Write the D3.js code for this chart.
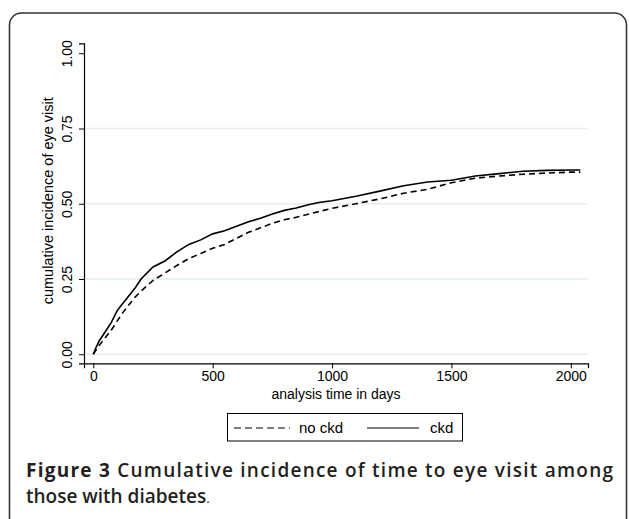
<!DOCTYPE html>
<html>
<head>
<meta charset="utf-8">
<script src="https://cdn.jsdelivr.net/npm/d3@7/dist/d3.min.js"></script>
<style>
  html, body { margin: 0; padding: 0; background: #fff; }
  svg { display: block; }
</style>
</head>
<body>
<svg id="chart" width="629" height="519"></svg>
<script>
// ---- data ----
const days = [0, 10, 25, 50, 75, 100, 125, 150, 175, 200, 250, 300, 350, 400, 450, 500, 550, 600, 650, 700, 750, 800, 850, 900, 950, 1000, 1100, 1200, 1300, 1400, 1500, 1600, 1700, 1800, 1900, 2000, 2040];
const ckd = [0, 0.02, 0.045, 0.075, 0.105, 0.145, 0.17, 0.195, 0.22, 0.25, 0.29, 0.31, 0.34, 0.365, 0.38, 0.40, 0.41, 0.425, 0.44, 0.452, 0.466, 0.478, 0.486, 0.497, 0.505, 0.51, 0.525, 0.542, 0.56, 0.572, 0.578, 0.592, 0.60, 0.608, 0.611, 0.612, 0.612];
const noCkd = [0, 0.012, 0.03, 0.055, 0.08, 0.11, 0.14, 0.165, 0.19, 0.21, 0.245, 0.27, 0.295, 0.318, 0.335, 0.352, 0.365, 0.385, 0.405, 0.42, 0.435, 0.447, 0.455, 0.465, 0.475, 0.485, 0.50, 0.516, 0.535, 0.548, 0.57, 0.585, 0.592, 0.598, 0.602, 0.605, 0.605];
const xTicks = [0, 500, 1000, 1500, 2000];
const yTicks = [0, 0.25, 0.5, 0.75, 1.0];
const yGrid = [0, 0.25, 0.5, 0.75];
const seriesNames = ["no ckd", "ckd"];
const xTitle = "analysis time in days";
const yTitle = "cumulative incidence of eye visit";
const captionBold = "Figure 3";
const captionRest = " Cumulative incidence of time to eye visit among";
const captionLine2 = "those with diabetes";

// ---- layout ----
const svg = d3.select("#chart");
const font = "'Liberation Sans', Arial, Helvetica, sans-serif";

// outer rounded frame
svg.append("rect")
  .attr("x", 9.5).attr("y", 13).attr("width", 617).attr("height", 520)
  .attr("rx", 12).attr("ry", 12)
  .attr("fill", "none").attr("stroke", "#333").attr("stroke-width", 1.6);

const x = d3.scaleLinear().domain([-39, 2072]).range([84, 588]);
const y = d3.scaleLinear().domain([-0.03, 1.033]).range([363.3, 43.3]);

// gridlines
svg.append("g").selectAll("line").data(yGrid).join("line")
  .attr("x1", x.range()[0]).attr("x2", x.range()[1])
  .attr("y1", d => y(d)).attr("y2", d => y(d))
  .attr("stroke", "#e4eef0").attr("stroke-width", 1.3);

// x axis
const gx = svg.append("g").attr("transform", `translate(0,${y.range()[0]})`)
  .call(d3.axisBottom(x).tickValues(xTicks).tickFormat(d3.format("d")).tickSizeOuter(0).tickSize(5).tickPadding(3));
gx.select(".domain").attr("stroke", "#000").attr("stroke-width", 1.2);
gx.selectAll(".tick line").attr("stroke", "#000").attr("stroke-width", 1);
gx.selectAll(".tick text").attr("font-family", font).attr("font-size", 14).attr("fill", "#000");

// y axis
const gy = svg.append("g").attr("transform", `translate(${x.range()[0]},0)`)
  .call(d3.axisLeft(y).tickValues(yTicks).tickFormat(d3.format(".2f")).tickSizeOuter(0).tickSize(5));
gy.select(".domain").attr("stroke", "#000").attr("stroke-width", 1.2);
gy.selectAll(".tick line").attr("stroke", "#000").attr("stroke-width", 1);
gy.selectAll(".tick text")
  .attr("font-family", font).attr("font-size", 14).attr("fill", "#000")
  .attr("x", null).attr("dy", null)
  .attr("text-anchor", "middle")
  .attr("transform", "translate(-12,0) rotate(-90)");

// axis titles
svg.append("text")
  .attr("x", (x.range()[0] + x.range()[1]) / 2).attr("y", 399)
  .attr("text-anchor", "middle").attr("font-family", font).attr("font-size", 14)
  .text(xTitle);
svg.append("text")
  .attr("transform", `translate(53,${y(0.5) - 3}) rotate(-90)`)
  .attr("text-anchor", "middle").attr("font-family", font).attr("font-size", 14.5)
  .text(yTitle);

// lines
const line = (vals) => d3.line()
  .x((d, i) => x(days[i]))
  .y(d => y(d))(vals);

svg.append("path").attr("d", line(noCkd))
  .attr("fill", "none").attr("stroke", "#000").attr("stroke-width", 1.6)
  .attr("stroke-dasharray", "6,4");
svg.append("path").attr("d", line(ckd))
  .attr("fill", "none").attr("stroke", "#000").attr("stroke-width", 1.6);

// legend
const lg = svg.append("g");
lg.append("rect").attr("x", 227.5).attr("y", 413.5).attr("width", 235).attr("height", 27.5)
  .attr("fill", "#fff").attr("stroke", "#000").attr("stroke-width", 1);
lg.append("line").attr("x1", 234).attr("x2", 290).attr("y1", 428).attr("y2", 428)
  .attr("stroke", "#000").attr("stroke-width", 1.2).attr("stroke-dasharray", "7,4");
lg.append("text").attr("x", 299).attr("y", 433).attr("font-family", font).attr("font-size", 15).text(seriesNames[0]);
lg.append("line").attr("x1", 367).attr("x2", 419).attr("y1", 428).attr("y2", 428)
  .attr("stroke", "#000").attr("stroke-width", 1.2);
lg.append("text").attr("x", 430).attr("y", 433).attr("font-family", font).attr("font-size", 15).text(seriesNames[1]);

// caption
const capFont = "'Open Sans', 'Noto Sans', sans-serif";
const cap1 = svg.append("text").attr("x", 26).attr("y", 477)
  .attr("font-family", capFont).attr("font-size", 19).attr("fill", "#231f20")
  .attr("textLength", 587).attr("lengthAdjust", "spacing");
cap1.append("tspan").attr("font-weight", 700).text(captionBold);
cap1.append("tspan").attr("font-weight", 600).text(captionRest);
const cap2 = svg.append("text").attr("x", 26).attr("y", 503)
  .attr("font-family", capFont).attr("font-size", 19).attr("fill", "#231f20");
cap2.append("tspan").attr("font-weight", 600).text(captionLine2);
cap2.append("tspan").attr("font-weight", 400).attr("font-size", 13).text(".");
</script>
</body>
</html>
